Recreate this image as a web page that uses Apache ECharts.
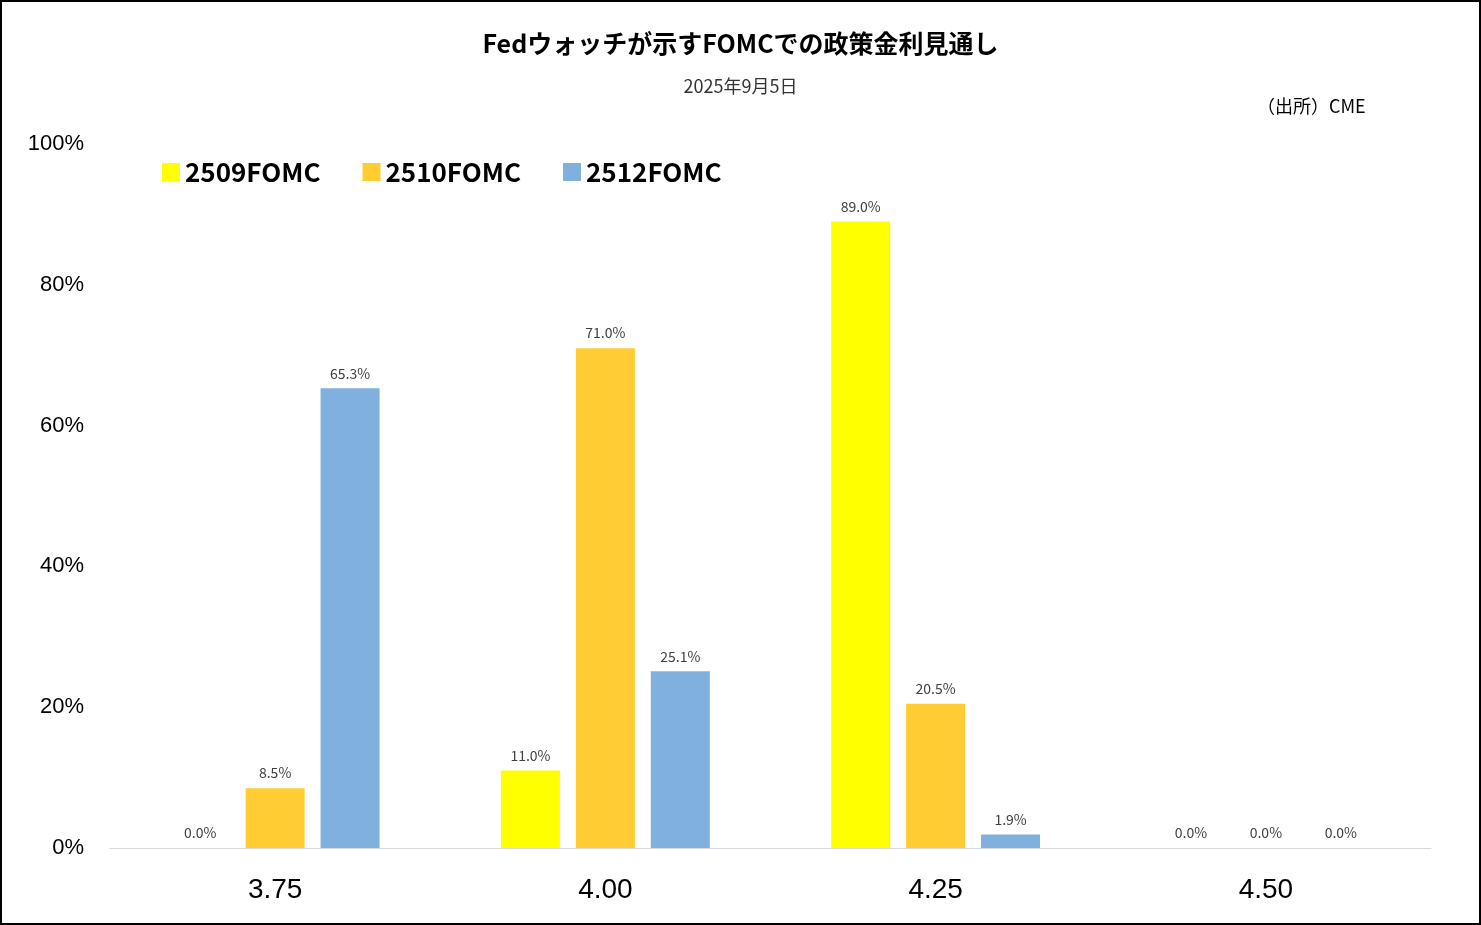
<!DOCTYPE html>
<html><head><meta charset="utf-8">
<script src="https://cdn.jsdelivr.net/npm/echarts@6/dist/echarts.min.js"></script>
<style>html,body{margin:0;padding:0;background:#fff}#c{width:1481px;height:925px;box-sizing:border-box;border:2px solid #000}</style>
</head><body><div id="c"></div>
<script>
const categories = ['3.75','4.00','4.25','4.50'];
const s2509 = [0.0, 11.0, 89.0, 0.0];
const s2510 = [8.5, 71.0, 20.5, 0.0];
const s2512 = [65.3, 25.1, 1.9, 0.0];
const yTicks = [0,20,40,60,80,100];
const chart = echarts.init(document.getElementById('c'));
const font = '"Noto Sans CJK JP","Noto Sans",sans-serif';
const lbl = {show:true,position:'top',formatter:p=>p.value.toFixed(1)+'%',fontSize:14,color:'#404040',fontFamily:font,distance:8};
function ser(name,data,color){return {name,type:'bar',data,barWidth:59,barGap:'27%',itemStyle:{color},label:lbl};}
chart.setOption({
  animation:false,
  textStyle:{fontFamily:font},
  title:[{text:'Fedウォッチが示すFOMCでの政策金利見通し',left:'center',top:24,textStyle:{fontSize:25,fontWeight:'bold',color:'#000',fontFamily:font}},
         {text:'2025年9月5日',left:'center',top:70,textStyle:{fontSize:18,fontWeight:'normal',color:'#333',fontFamily:font}},
         {text:'（出所）CME',left:1250,top:90,textStyle:{fontSize:18,fontWeight:'normal',color:'#000',fontFamily:font}}],
  legend:{left:155,top:152,itemWidth:18,itemHeight:18,itemGap:42,icon:'rect',textStyle:{fontSize:26,fontWeight:'bold',color:'#000',fontFamily:font}},
  grid:{left:108,right:48,top:142,bottom:75},
  xAxis:{type:'category',data:categories,axisLine:{lineStyle:{color:'#d9d9d9'}},axisTick:{show:false},
    axisLabel:{fontSize:28,color:'#000',margin:28,fontFamily:'"Liberation Sans",sans-serif'}},
  yAxis:{type:'value',min:0,max:100,interval:20,splitLine:{show:false},axisLine:{show:false},axisTick:{show:false},
    axisLabel:{fontSize:22,color:'#000',margin:26,formatter:v=>v+'%',fontFamily:'"Liberation Sans",sans-serif'}},
  series:[ser('2509FOMC',s2509,'#ffff00'),ser('2510FOMC',s2510,'#ffcc33'),ser('2512FOMC',s2512,'#7fb0de')]
});
</script></body></html>
